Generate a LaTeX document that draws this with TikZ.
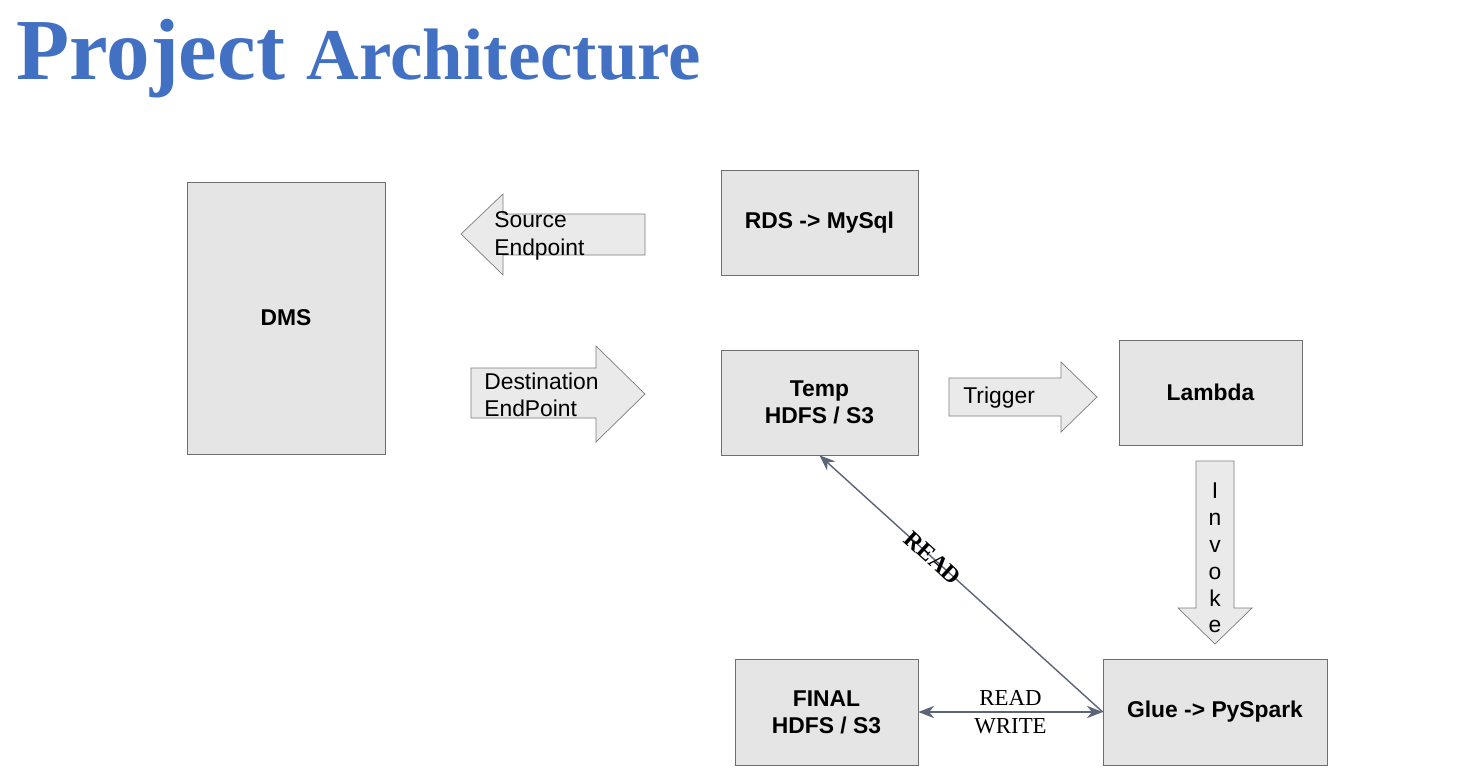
\documentclass[tikz,border=0pt]{standalone}
\usepackage{fontspec}
\setmainfont{Liberation Serif}
\setsansfont{Liberation Sans}
\usepackage{tikz}
\usetikzlibrary{arrows.meta, positioning, calc}
\definecolor{titleblue}{RGB}{66,112,194}
\definecolor{boxfill}{RGB}{229,229,229}
\definecolor{boxline}{RGB}{110,110,110}
\definecolor{linkline}{RGB}{90,101,119}
\tikzset{
    box/.style={rectangle, draw=boxline, fill=boxfill, align=center, font=\sffamily\bfseries\fontsize{13}{15.5}\selectfont},
    blockarrow/.style={draw=boxline!90, fill=boxfill!80, line join=miter},
    arrowtext/.style={inner sep=0pt, align=left, font=\sffamily\fontsize{13}{15.5}\selectfont},
    link/.style={draw=linkline, thick, -{Stealth[length=9pt, width=7pt]}},
    linklabel/.style={inner sep=3.5pt, align=center, font=\fontsize{13}{15}\selectfont}
}
\begin{document}
\begin{tikzpicture}[x=0.02cm, y=-0.02cm]
    \useasboundingbox (0,0) rectangle (1473,781);

    % Title
    \node (title) [anchor=base west, inner sep=0pt, text=titleblue, font=\bfseries] at (16,79)
        {\fontsize{49.5}{50}\selectfont Project \fontsize{41.5}{42}\selectfont Architecture};

    % Nodes
    \node (dms) [box, minimum width=3.96cm, minimum height=5.44cm] at (286,318) {DMS};
    \node (rds) [box, minimum width=3.94cm, minimum height=2.1cm] at (819.5,222.5) {RDS -> MySql};
    \node (temp) [box, minimum width=3.94cm, minimum height=2.1cm] at (819.5,402.5) {Temp\\HDFS / S3};
    \node (lambda) [box, minimum width=3.66cm, minimum height=2.1cm] at (1210.5,392.5) {Lambda};
    \node (glue) [box, minimum width=4.48cm, minimum height=2.12cm] at (1215,712) {Glue -> PySpark};
    \node (final) [box, minimum width=3.66cm, minimum height=2.12cm] at (826.5,712) {FINAL\\HDFS / S3};

    % Block arrows
    \draw [blockarrow] (645,214) -- (503,214) -- (503,194) -- (461,234) -- (503,275) -- (503,255) -- (645,255) -- cycle;
    \draw [blockarrow] (471,368) -- (596,368) -- (596,346) -- (645,394) -- (596,442) -- (596,418) -- (471,418) -- cycle;
    \draw [blockarrow] (949,378) -- (1061,378) -- (1061,362) -- (1097,397) -- (1061,432) -- (1061,416) -- (949,416) -- cycle;
    \draw [blockarrow] (1196,461) -- (1234,461) -- (1234,608) -- (1252,608) -- (1215,644) -- (1178,608) -- (1196,608) -- cycle;

    % Block arrow texts
    \node (source) [arrowtext, anchor=west] at (494,236) {Source\\Endpoint};
    \node (dest) [arrowtext, anchor=west] at (484,395) {Destination\\EndPoint};
    \node (trigger) [arrowtext, anchor=west] at (963,398) {Trigger};
    \node (invoke) [arrowtext, align=center, font=\sffamily\fontsize{13}{15.3}\selectfont] at (1215,558) {I\\n\\v\\o\\k\\e};

    % Connectors
    \draw [link] (glue.west) -- node [sloped, pos=0.6, inner sep=0pt, font=\bfseries\fontsize{13.5}{15}\selectfont] {READ} (temp.south);
    \draw [link, {Stealth[length=9pt, width=7pt]}-{Stealth[length=9pt, width=7pt]}] (final.east) -- node [linklabel, above] {READ} node [linklabel, below] {WRITE} (glue.west);

\end{tikzpicture}
\end{document}
